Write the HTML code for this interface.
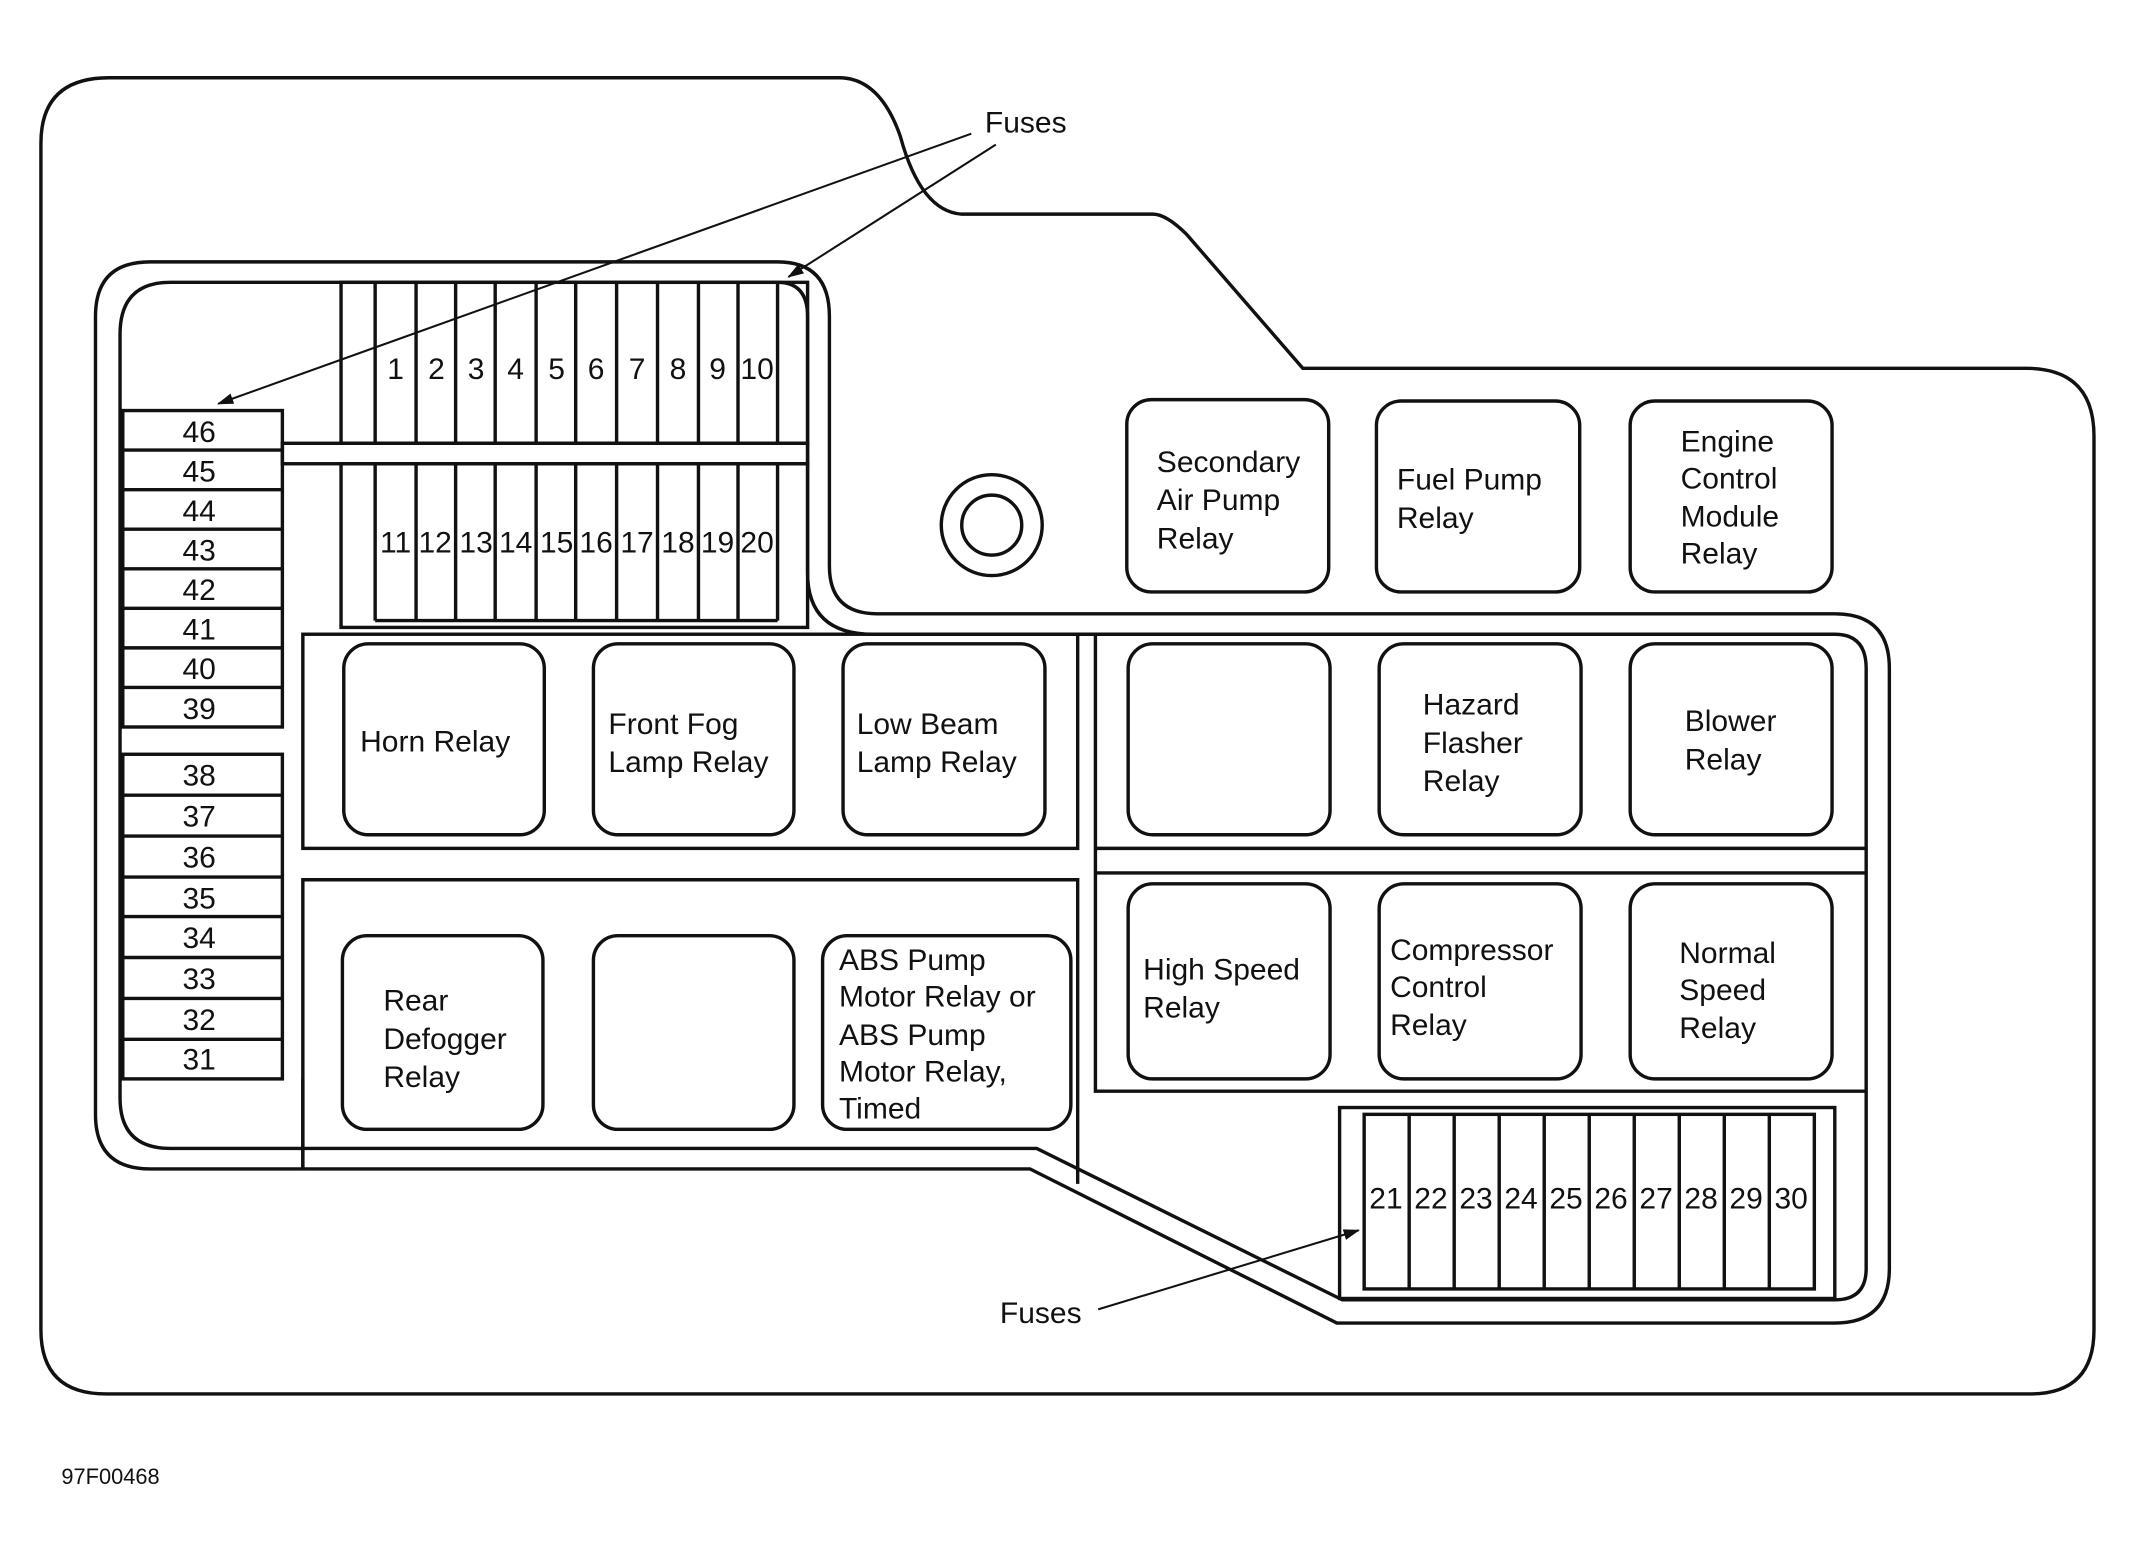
<!DOCTYPE html>
<html><head><meta charset="utf-8"><style>
html,body{margin:0;padding:0;background:#fff;}
svg{display:block;}
text{font-family:"Liberation Sans",sans-serif;fill:#111;}
</style></head><body>
<svg width="2139" height="1559" viewBox="0 0 1568 1143" preserveAspectRatio="none" xmlns="http://www.w3.org/2000/svg">
<defs>
<marker id="ah" markerWidth="12" markerHeight="8" refX="11" refY="4" orient="auto" markerUnits="userSpaceOnUse"><path d="M0,0 L12,4 L0,8 Z" fill="#111"/></marker>
</defs>
<g fill="none" stroke="#111" stroke-width="2.5">
<path d="M30,105 Q30,57 80,57 L615,57 Q645,57 660,100 Q675,155 705,157 L845,157 Q855,157 870,172 L955,270 L1485,270 Q1535,270 1535,320 L1535,975 Q1535,1022 1488,1022 L78,1022 Q30,1022 30,975 Z"/>
<path d="M110,192 L570,192 Q608,192 608,232 L608,415 Q608,450 643,450 L1345,450 Q1385,450 1385,490 L1385,930 Q1385,970 1345,970 L980,970 L755,857 L110,857 Q70,857 70,817 L70,232 Q70,192 110,192 Z"/>
<path d="M125,207 L570,207 Q592,207 592,232 L592,420 Q592,465 640,465 L1345,465 Q1368,465 1368,490 L1368,930 Q1368,953 1345,953 L984,953 L760,842 L125,842 Q88,842 88,805 L88,245 Q88,207 125,207 Z"/>
<circle cx="727" cy="385" r="37"/><circle cx="727" cy="385" r="22"/>
<rect x="250" y="207" width="342" height="118"/>
<rect x="207" y="325" width="385" height="15"/>
<rect x="250" y="340" width="342" height="120"/>
<path d="M275,207V325M305,207V325M334,207V325M363,207V325M393,207V325M422,207V325M452,207V325M482,207V325M512,207V325M541,207V325M570,207V325"/>
<path d="M275,340V455M305,340V455M334,340V455M363,340V455M393,340V455M422,340V455M452,340V455M482,340V455M512,340V455M541,340V455M570,340V455M275,455H570"/>
<rect x="90" y="301" width="117" height="232"/>
<path d="M90,330H207M90,359H207M90,388H207M90,417H207M90,446H207M90,475H207M90,504H207"/>
<rect x="90" y="553" width="117" height="238"/>
<path d="M90,583H207M90,613H207M90,643H207M90,672H207M90,702H207M90,732H207M90,762H207"/>
<line x1="222" y1="791" x2="222" y2="857"/>
<rect x="222" y="465" width="568" height="157"/>
<path d="M222,857V645H790V868"/>
<path d="M803,465V800H1368M803,622H1368M803,640H1368"/>
<rect x="252" y="472" width="147" height="140" rx="18"/>
<rect x="435" y="472" width="147" height="140" rx="18"/>
<rect x="618" y="472" width="148" height="140" rx="18"/>
<rect x="251" y="686" width="147" height="142" rx="18"/>
<rect x="435" y="686" width="147" height="142" rx="18"/>
<rect x="603" y="686" width="182" height="142" rx="18"/>
<rect x="826" y="293" width="148" height="141" rx="18"/>
<rect x="1009" y="294" width="149" height="140" rx="18"/>
<rect x="1195" y="294" width="148" height="140" rx="18"/>
<rect x="827" y="472" width="148" height="140" rx="18"/>
<rect x="1011" y="472" width="148" height="140" rx="18"/>
<rect x="1195" y="472" width="148" height="140" rx="18"/>
<rect x="827" y="648" width="148" height="143" rx="18"/>
<rect x="1011" y="648" width="148" height="143" rx="18"/>
<rect x="1195" y="648" width="148" height="143" rx="18"/>
<rect x="982" y="812" width="363" height="140"/>
<rect x="1000" y="817" width="330" height="128"/>
<path d="M1033,817V945M1066,817V945M1099,817V945M1132,817V945M1165,817V945M1198,817V945M1231,817V945M1264,817V945M1297,817V945"/>
</g>
<g stroke="#111" stroke-width="1.5" fill="none">
<line x1="712" y1="98" x2="160" y2="296" marker-end="url(#ah)"/>
<line x1="730" y1="106" x2="578" y2="203" marker-end="url(#ah)"/>
<line x1="805" y1="960" x2="996" y2="902" marker-end="url(#ah)"/>
</g>
<g font-size="22">
<text x="722" y="97">Fuses</text>
<text x="733" y="970">Fuses</text>
<g text-anchor="middle">
<text x="290" y="278">1</text><text x="320" y="278">2</text><text x="349" y="278">3</text><text x="378" y="278">4</text><text x="408" y="278">5</text><text x="437" y="278">6</text><text x="467" y="278">7</text><text x="497" y="278">8</text><text x="526" y="278">9</text><text x="555" y="278">10</text>
<text x="290" y="405">11</text><text x="319" y="405">12</text><text x="349" y="405">13</text><text x="378" y="405">14</text><text x="408" y="405">15</text><text x="437" y="405">16</text><text x="467" y="405">17</text><text x="497" y="405">18</text><text x="526" y="405">19</text><text x="555" y="405">20</text>
<text x="146" y="324">46</text><text x="146" y="353">45</text><text x="146" y="382">44</text><text x="146" y="411">43</text><text x="146" y="440">42</text><text x="146" y="469">41</text><text x="146" y="498">40</text><text x="146" y="527">39</text>
<text x="146" y="576">38</text><text x="146" y="606">37</text><text x="146" y="636">36</text><text x="146" y="666">35</text><text x="146" y="695">34</text><text x="146" y="725">33</text><text x="146" y="755">32</text><text x="146" y="784">31</text>
<text x="1016" y="886">21</text><text x="1049" y="886">22</text><text x="1082" y="886">23</text><text x="1115" y="886">24</text><text x="1148" y="886">25</text><text x="1181" y="886">26</text><text x="1214" y="886">27</text><text x="1247" y="886">28</text><text x="1280" y="886">29</text><text x="1313" y="886">30</text>
</g>
<text x="264" y="551">Horn Relay</text>
<text x="446" y="538">Front Fog</text><text x="446" y="566">Lamp Relay</text>
<text x="628" y="538">Low Beam</text><text x="628" y="566">Lamp Relay</text>
<text x="281" y="741">Rear</text><text x="281" y="769">Defogger</text><text x="281" y="797">Relay</text>
<text x="615" y="711">ABS Pump</text><text x="615" y="738">Motor Relay or</text><text x="615" y="766">ABS Pump</text><text x="615" y="793">Motor Relay,</text><text x="615" y="820">Timed</text>
<text x="848" y="346">Secondary</text><text x="848" y="374">Air Pump</text><text x="848" y="402">Relay</text>
<text x="1024" y="359">Fuel Pump</text><text x="1024" y="387">Relay</text>
<text x="1232" y="331">Engine</text><text x="1232" y="358">Control</text><text x="1232" y="386">Module</text><text x="1232" y="413">Relay</text>
<text x="1043" y="524">Hazard</text><text x="1043" y="552">Flasher</text><text x="1043" y="580">Relay</text>
<text x="1235" y="536">Blower</text><text x="1235" y="564">Relay</text>
<text x="838" y="718">High Speed</text><text x="838" y="746">Relay</text>
<text x="1019" y="704">Compressor</text><text x="1019" y="731">Control</text><text x="1019" y="759">Relay</text>
<text x="1231" y="706">Normal</text><text x="1231" y="733">Speed</text><text x="1231" y="761">Relay</text>
</g>
<text x="45" y="1088" font-size="16">97F00468</text>
</svg>
</body></html>
